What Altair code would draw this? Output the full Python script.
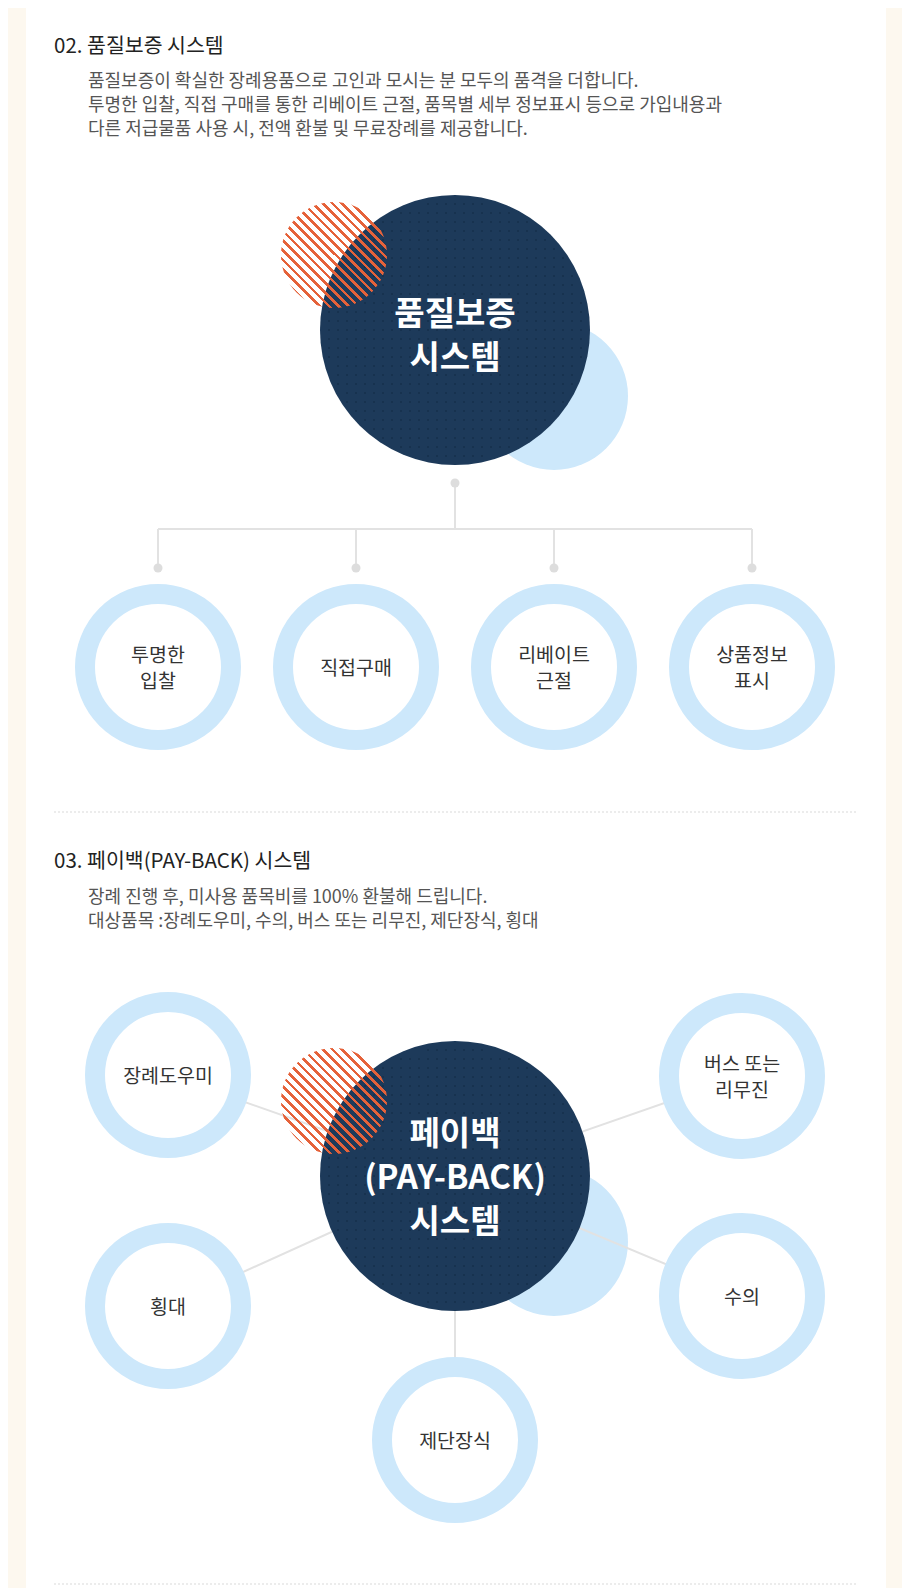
import altair as alt
import pandas as pd

# ---- 텍스트 데이터 ----
section_titles = ["02. 품질보증 시스템", "03. 페이백(PAY-BACK) 시스템"]
quality_lines = [
    "품질보증이 확실한 장례용품으로 고인과 모시는 분 모두의 품격을 더합니다.",
    "투명한 입찰, 직접 구매를 통한 리베이트 근절, 품목별 세부 정보표시 등으로 가입내용과",
    "다른 저급물품 사용 시, 전액 환불 및 무료장례를 제공합니다.",
]
payback_lines = [
    "장례 진행 후, 미사용 품목비를 100% 환불해 드립니다.",
    "대상품목 :장례도우미, 수의, 버스 또는 리무진, 제단장식, 횡대",
]
hub_labels = ["품질보증\n시스템", "페이백\n(PAY-BACK)\n시스템"]
quality_items = ["투명한\n입찰", "직접구매", "리베이트\n근절", "상품정보\n표시"]
payback_items = ["장례도우미", "버스 또는\n리무진", "횡대", "수의", "제단장식"]

# ---- 레이아웃 (픽셀 좌표) ----
W, H = 894, 1580
title_x, body_x = 54, 88
title_y = [47, 862]
quality_y = [82, 106, 130]
payback_y = [898, 922]
hub_x = [455, 455]
hub_y = [330, 1176]
hub_text_dy = [7, 3]
HUB_R = 135
BLOB_DX, BLOB_DY, BLOB_R = 99, 66, 74
HATCH_DX, HATCH_DY, HATCH_R = -121, -75, 53
q_ring_x = [158, 356, 554, 752]
Q_RING_Y = 667
Q_BAR_Y, Q_DOT_Y, HUB_DOT_Y = 529, 568, 483
p_ring_x = [168, 742, 168, 742, 455]
p_ring_y = [1075, 1076, 1306, 1296, 1440]
RING_R, RING_W = 73, 20
divider_y = [812, 1584]
HUB_LH, RING_LH = 44, 26

NAVY = "#1d3a5a"
DOT = "#152f4b"
BLUE = "#cde8fb"
ORANGE = "#e5623a"
LINE = "#e2e2e2"
FONT = "Noto Sans CJK KR"

X_SCALE = alt.Scale(domain=[8, 8 + W], nice=False, zero=False)
Y_SCALE = alt.Scale(domain=[8, 8 + H], nice=False, zero=False, reverse=True)
X = alt.X("x:Q", scale=X_SCALE, axis=None)
Y = alt.Y("y:Q", scale=Y_SCALE, axis=None)
TY = alt.Y("ty:Q", scale=Y_SCALE, axis=None)


def base(df):
    return alt.Chart(df).encode(x=X, y=Y)


def segs(df):
    return alt.Chart(df).encode(x=X, y=Y, x2="x2:Q", y2="y2:Q")


def block_top(y, label, lh):
    # 여러 줄 텍스트를 가운데 정렬하기 위한 첫 줄 위치
    return y - (label.count("\n")) * lh / 2


panel = segs(pd.DataFrame({"x": [26], "x2": [886], "y": [0], "y2": [1600]})).mark_rect(color="white")

dividers = segs(pd.DataFrame({"x": [54, 54], "x2": [858, 858], "y": divider_y, "y2": divider_y})).mark_rule(
    color="#d9d9d9", strokeWidth=1, strokeDash=[2, 2]
)

blobs = base(pd.DataFrame({"x": [v + BLOB_DX for v in hub_x], "y": [v + BLOB_DY for v in hub_y]})).mark_circle(
    color=BLUE, opacity=1, size=(2 * BLOB_R) ** 2
)

# 품질보증 연결선
qx = hub_x[0]
tree = pd.DataFrame({
    "x": [qx, q_ring_x[0]] + q_ring_x,
    "x2": [qx, q_ring_x[-1]] + q_ring_x,
    "y": [HUB_DOT_Y, Q_BAR_Y] + [Q_BAR_Y] * 4,
    "y2": [Q_BAR_Y, Q_BAR_Y] + [Q_DOT_Y] * 4,
})
tree_lines = segs(tree).mark_rule(color=LINE, strokeWidth=2)
tree_dots = base(pd.DataFrame({"x": [qx] + q_ring_x, "y": [HUB_DOT_Y] + [Q_DOT_Y] * 4})).mark_circle(
    color="#dddddd", opacity=1, size=81
)

# 페이백 방사선
spokes = segs(pd.DataFrame({
    "x": p_ring_x, "y": p_ring_y,
    "x2": [hub_x[1]] * 5, "y2": [hub_y[1]] * 5,
})).mark_rule(color=LINE, strokeWidth=2)

hubs = base(pd.DataFrame({"x": hub_x, "y": hub_y})).mark_circle(
    color=NAVY, opacity=1, size=(2 * HUB_R) ** 2
)

# 원 안의 점 무늬 (장식)
tex_x, tex_y = [], []
for cx, cy in zip(hub_x, hub_y):
    for i in range(-15, 16):
        for j in range(-15, 16):
            dx, dy = i * 9, j * 9
            if dx * dx + dy * dy < (HUB_R - 4) ** 2:
                tex_x.append(cx + dx)
                tex_y.append(cy + dy)
texture = base(pd.DataFrame({"x": tex_x, "y": tex_y})).mark_square(color=DOT, opacity=1, size=3)

# 사선 무늬 원
N_STRIPES = 22
stops = []
for k in range(N_STRIPES):
    a = k / N_STRIPES
    b = (k + 0.38) / N_STRIPES
    c = (k + 1) / N_STRIPES
    stops += [
        alt.GradientStop(color=ORANGE, offset=a),
        alt.GradientStop(color=ORANGE, offset=b),
        alt.GradientStop(color="rgba(229,98,58,0)", offset=b),
        alt.GradientStop(color="rgba(229,98,58,0)", offset=c),
    ]
hatch_fill = alt.LinearGradient(gradient="linear", stops=stops, x1=0, y1=1, x2=1, y2=0)
hatches = base(pd.DataFrame({"x": [v + HATCH_DX for v in hub_x], "y": [v + HATCH_DY for v in hub_y]})).mark_circle(
    fill=hatch_fill, opacity=1, size=(2 * HATCH_R) ** 2
)

ring_labels = quality_items + payback_items
ring_df = pd.DataFrame({
    "x": q_ring_x + p_ring_x,
    "y": [Q_RING_Y] * 4 + p_ring_y,
    "label": ring_labels,
})
ring_df["ty"] = [block_top(y + 2, s, RING_LH) for y, s in zip(ring_df["y"], ring_labels)]
rings = base(ring_df).mark_circle(
    fill="white", stroke=BLUE, strokeWidth=RING_W, opacity=1, size=(2 * RING_R) ** 2
)
ring_text = alt.Chart(ring_df).mark_text(
    font=FONT, fontSize=19.5, color="#333333", lineBreak="\n", lineHeight=RING_LH, baseline="middle"
).encode(x=X, y=TY, text="label:N")

hub_df = pd.DataFrame({
    "x": hub_x,
    "ty": [block_top(y + d, s, HUB_LH) for y, d, s in zip(hub_y, hub_text_dy, hub_labels)],
    "label": hub_labels,
})
hub_text = alt.Chart(hub_df).mark_text(
    font=FONT, fontSize=33, fontWeight="bold", color="white", lineBreak="\n", lineHeight=HUB_LH, baseline="middle"
).encode(x=X, y=TY, text="label:N")

titles = base(pd.DataFrame({"x": [title_x] * 2, "y": title_y, "label": section_titles})).mark_text(
    font=FONT, fontSize=20.5, color="#222222", align="left", baseline="middle"
).encode(text="label:N")

body = base(pd.DataFrame({
    "x": [body_x] * 5,
    "y": quality_y + payback_y,
    "label": quality_lines + payback_lines,
})).mark_text(
    font=FONT, fontSize=18, color="#555555", align="left", baseline="middle"
).encode(text="label:N")

chart = alt.layer(
    panel, dividers, blobs, tree_lines, spokes, hubs, texture, hatches, tree_dots, rings, ring_text, hub_text,
    titles, body
).properties(
    width=W, height=H, padding=0, background="#fdf8ef",
    autosize=alt.AutoSizeParams(type="none"),
).configure_view(strokeWidth=0)

chart.save("out.html", embed_options={"renderer": "svg", "actions": False})
